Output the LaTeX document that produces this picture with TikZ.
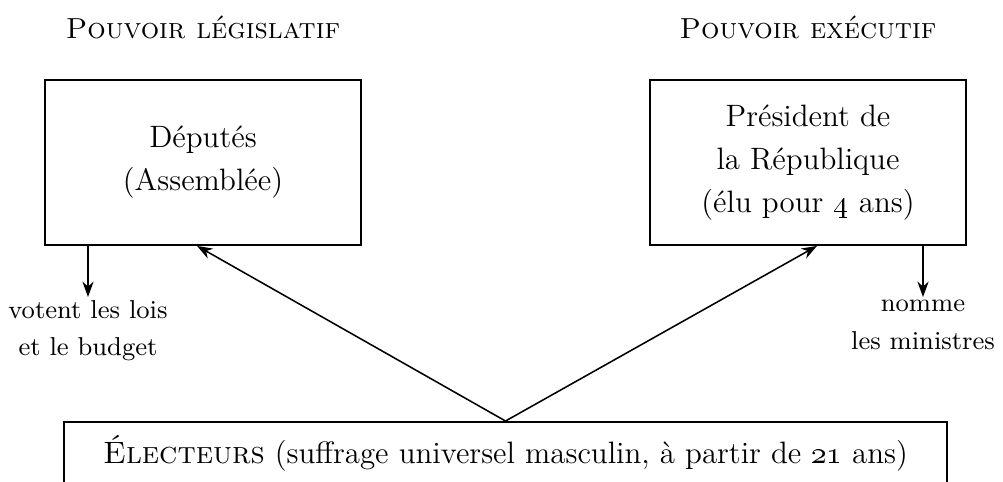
\documentclass[tikz,border=0pt]{standalone}
\usepackage{tikz}
\usetikzlibrary{arrows.meta,positioning}

\tikzset{
  pouvoir/.style={draw,line width=0.7pt,minimum width=3.95cm,minimum height=2.06cm,
    align=center,font=\fontsize{11}{15.3}\selectfont},
  suite/.style={align=center,inner sep=1pt,font=\fontsize{9.2}{13.2}\selectfont},
  titre/.style={font=\fontsize{10.3}{12}\selectfont},
  fleche/.style={-{Stealth[length=5.5pt,width=4pt]},line width=0.55pt}
}

\begin{document}
\begin{tikzpicture}[x=0.0125cm,y=0.0125cm]
\useasboundingbox (0,0) rectangle (1003,481);
% Titres des deux pouvoirs
\node[titre] (legtitre) at (203,454) {\textsc{Pouvoir législatif}};
\node[titre] (exetitre) at (808,454) {\textsc{Pouvoir exécutif}};
% Boites
\node[pouvoir] (deputes) at (203,318.5) {Députés\\(Assemblée)};
\node[pouvoir] (president) at (808,318.5) {Président de\\la République\\(élu pour \oldstylenums{4} ans)};
\node[pouvoir,minimum width=11.04cm,minimum height=0.775cm] (electeurs) at (505.5,28)
  {\textsc{Électeurs} (suffrage universel masculin, à partir de \oldstylenums{21} ans)};
% Attributions
\node[suite,anchor=north] (lois) at (88,184) {votent les lois\\et le budget};
\node[suite,anchor=north] (ministres) at (923,184) {nomme\\les ministres};
\draw[fleche] (lois.north |- deputes.south) -- (lois.north);
\draw[fleche] (ministres.north |- president.south) -- (ministres.north);
% Election
\draw[fleche] (electeurs.north) -- ([xshift=-0.075cm]deputes.south);
\draw[fleche] (electeurs.north) -- ([xshift=0.1125cm]president.south);
\end{tikzpicture}
\end{document}
